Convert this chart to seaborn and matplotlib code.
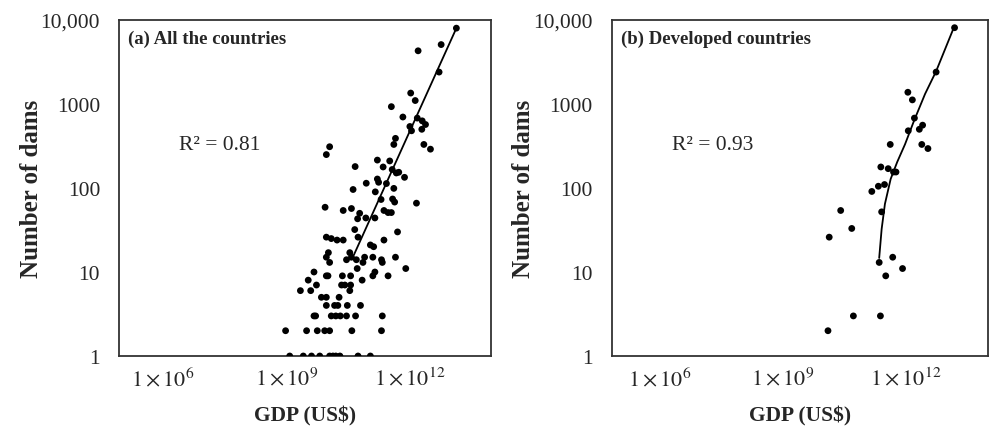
import numpy as np
import pandas as pd
import matplotlib
matplotlib.use("Agg")
import matplotlib.pyplot as plt
import seaborn as sns
from matplotlib.ticker import NullLocator

# ---- data (GDP as log10 of US$, dams as counts) ----
log_gdp_all = [
    13.13, 12.76, 12.20, 12.71, 12.02, 12.13, 11.55, 11.83, 12.18, 12.00,
    12.04, 12.30, 12.38, 12.29, 12.34, 12.50, 11.65, 11.61, 10.05, 9.97,
    11.21, 11.51, 10.67, 11.35, 11.57, 11.67, 11.73, 11.87, 11.21, 11.24,
    10.94, 11.43, 10.62, 11.61, 11.16, 11.30, 11.58, 11.63, 12.16, 9.94,
    10.38, 10.58, 10.78, 11.37, 11.47, 11.55, 10.73, 10.93, 11.15, 10.66,
    11.70, 9.97, 10.09, 10.23, 10.38, 10.74, 11.37, 11.04, 11.12, 10.02,
    10.54, 9.97, 10.58, 11.10, 11.31, 11.65, 10.05, 10.46, 10.70, 10.90,
    10.86, 11.33, 10.72, 11.90, 9.67, 11.15, 11.10, 9.97, 10.01, 10.36,
    10.56, 11.47, 9.53, 10.84, 9.73, 10.42, 10.34, 10.56, 9.59, 9.34,
    10.54,
    9.85, 9.97, 10.28,
    9.97, 10.17, 10.25, 10.48, 10.80,
    9.67, 9.71, 10.09, 10.20, 10.31, 10.46, 10.68, 11.33,
    8.98, 9.49, 9.75, 9.93, 10.05, 10.59, 11.31,
    9.08, 9.41, 9.61, 9.81, 10.05, 10.13, 10.20, 10.30, 10.74, 11.04,
]
dams_all = [
    8000, 5100, 4300, 2400, 1350, 1100, 930, 700, 680, 540,
    480, 630, 570, 500, 330, 290, 390, 330, 310, 250,
    215, 210, 180, 178, 166, 151, 154, 134, 128, 117,
    114, 113, 96, 99, 90, 73, 74, 68, 66, 59,
    54, 57, 50, 54, 51, 51, 43, 44, 44, 32,
    30, 26, 25, 24, 24, 26, 24, 21, 20, 17,
    17, 15, 15, 15, 14, 15, 13, 14, 14, 15,
    13, 13, 11, 11, 10, 10, 9, 9, 9, 9,
    9, 9, 8, 8, 7, 7, 7, 7, 6, 6,
    6,
    5, 5, 5,
    4, 4, 4, 4, 4,
    3, 3, 3, 3, 3, 3, 3, 3,
    2, 2, 2, 2, 2, 2, 2,
    1, 1, 1, 1, 1, 1, 1, 1, 1, 1,
]

log_gdp_dev = [
    13.19, 12.74, 12.05, 12.16, 12.21, 12.06, 12.33, 12.41, 12.39, 12.54,
    11.62, 11.39, 11.57, 11.70, 11.76, 11.48, 11.33, 11.17, 11.41, 10.41,
    10.68, 10.13, 11.35, 11.68, 11.92, 11.51, 10.72, 11.38, 10.10,
]
dams_dev = [
    8100, 2400, 1380, 1120, 680, 480, 500, 560, 330, 295,
    330, 178, 170, 155, 155, 110, 105, 91, 52, 54,
    33, 26, 13, 15, 11, 9, 3, 3, 2,
]

# fitted lines as drawn in the figure
fit_all_log_gdp = [10.64, 13.13]
fit_all_dams = [16, 8000]
fit_dev_log_gdp = [11.35, 11.41, 11.49, 11.63, 11.79, 11.98, 12.20, 12.47, 12.74, 13.18]
fit_dev_dams = [14.7, 32.5, 64.6, 128, 204, 331, 631, 1318, 2455, 8300]

panel_titles = ["(a) All the countries", "(b) Developed countries"]
r2_labels = ["R\u00b2 = 0.81", "R\u00b2 = 0.93"]

y_ticks = [1, 10, 100, 1000, 10000]
y_tick_labels = ["1", "10", "100", "1000", "10,000"]
x_ticks = [1e6, 1e9, 1e12]
x_tick_labels = [r"$1\times10^{6}$", r"$1\times10^{9}$", r"$1\times10^{12}$"]

sns.set_style("white")
plt.rcParams["font.family"] = ["Liberation Serif", "DejaVu Serif"]
plt.rcParams["mathtext.fontset"] = "stix"

df_all = pd.DataFrame({"gdp": np.power(10.0, log_gdp_all), "dams": dams_all})
df_dev = pd.DataFrame({"gdp": np.power(10.0, log_gdp_dev), "dams": dams_dev})
fit_all = pd.DataFrame({"gdp": np.power(10.0, fit_all_log_gdp), "dams": fit_all_dams})
fit_dev = pd.DataFrame({"gdp": np.power(10.0, fit_dev_log_gdp), "dams": fit_dev_dams})

fig = plt.figure(figsize=(9.95, 4.35), dpi=100)
ax1 = fig.add_axes([0.1201, 0.1793, 0.3729, 0.7724])
ax2 = fig.add_axes([0.6154, 0.1793, 0.3773, 0.7724])

panels = [
    (ax1, df_all, fit_all, (10**4.944, 10**13.96)),
    (ax2, df_dev, fit_dev, (10**4.835, 10**14.0)),
]

for i, (ax, df, fit, xlim) in enumerate(panels):
    sns.scatterplot(data=df, x="gdp", y="dams", ax=ax, color="black",
                    s=24, edgecolor="none", zorder=3)
    sns.lineplot(data=fit, x="gdp", y="dams", ax=ax, color="black",
                 linewidth=1.3, sort=False, estimator=None)
    ax.set_xscale("log")
    ax.set_yscale("log")
    ax.set_xlim(*xlim)
    ax.set_ylim(1, 10000)
    ax.set_xticks(x_ticks)
    ax.set_xticklabels(x_tick_labels, fontsize=16)
    ax.set_yticks(y_ticks)
    ax.set_yticklabels(y_tick_labels, fontsize=15.5)
    ax.xaxis.set_minor_locator(NullLocator())
    ax.yaxis.set_minor_locator(NullLocator())
    ax.tick_params(axis="x", direction="in", length=5, width=1.2,
                   color="#333333", pad=8)
    ax.tick_params(axis="y", direction="in", length=5, width=1.2,
                   color="#333333", pad=14)
    for sp in ax.spines.values():
        sp.set_visible(True)
        sp.set_color("#333333")
        sp.set_linewidth(1.3)
    ax.set_xlabel("GDP (US$)", fontsize=15.5, fontweight="bold", labelpad=11)
    ax.set_ylabel("Number of dams", fontsize=18, fontweight="bold")
    ax.yaxis.set_label_coords(-0.205, 0.5)
    ax.text(0.022, 0.945, panel_titles[i], transform=ax.transAxes,
            fontsize=13.5, fontweight="bold", ha="left", va="center")
    ax.text(0.16, 0.63, r2_labels[i], transform=ax.transAxes,
            fontsize=15.5, ha="left", va="center")
    ax.grid(False)

fig.savefig("out.png", dpi=100)
